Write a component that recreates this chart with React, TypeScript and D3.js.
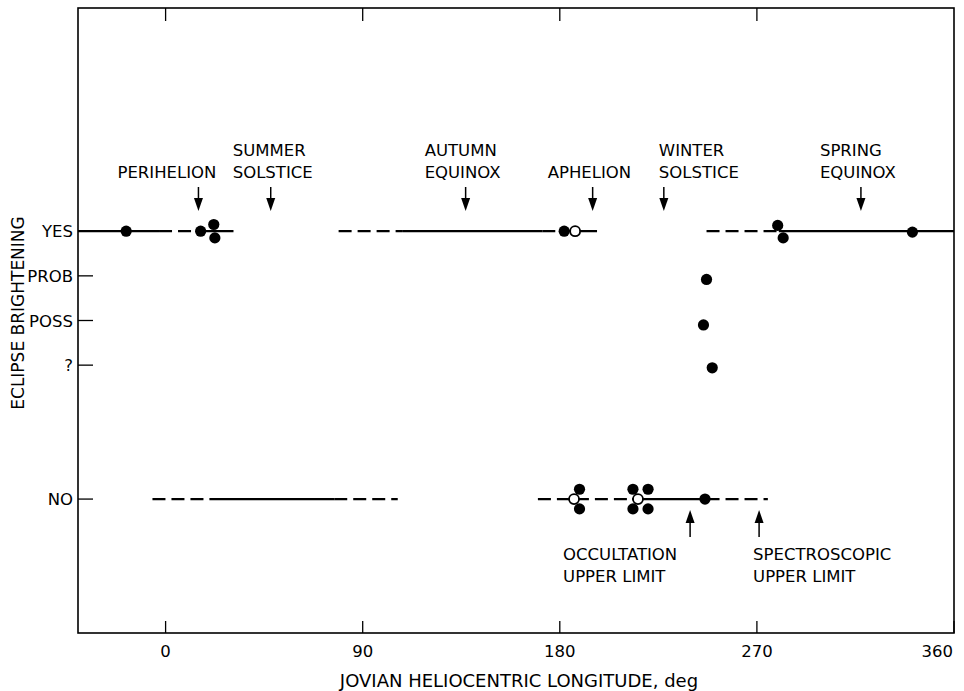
import React from 'react';
import * as d3 from 'd3';

// eclipse brightening vs jovian heliocentric longitude (deg)
const xTicks = [0, 90, 180, 270, 360];
const yLevels = [
  { label: 'YES', value: 4 },
  { label: 'PROB', value: 3 },
  { label: 'POSS', value: 2 },
  { label: '?', value: 1 },
  { label: 'NO', value: -2 },
];

// observed spans: [from lon, to lon, level, style]
const spans: [number, number, number, string][] = [
  [-40, -3, 4, 'solid'],
  [-3, 14, 4, 'dash'],
  [14, 31, 4, 'solid'],
  [79, 108, 4, 'dash'],
  [108, 172, 4, 'solid'],
  [172, 182, 4, 'dash'],
  [182, 197, 4, 'solid'],
  [247, 280, 4, 'dash'],
  [280, 360, 4, 'solid'],
  [-6, 20, -2, 'dash'],
  [20, 77, -2, 'solid'],
  [77, 106, -2, 'dash'],
  [170, 213, -2, 'dash'],
  [213, 247, -2, 'solid'],
  [247, 275, -2, 'dash'],
];

// individual eclipses: [lon, level]
const filledPts: [number, number][] = [
  [-18, 4], [16, 4], [22, 4.15], [22.5, 3.85], [182, 4],
  [279.5, 4.13], [282, 3.85], [341, 3.98],
  [247, 2.92], [245.6, 1.9], [249.6, 0.94],
  [189, -1.78], [189, -2.22], [213.4, -1.78], [220.3, -1.78],
  [213.4, -2.22], [220.3, -2.22], [246.3, -2],
];
const openPts: [number, number][] = [[187, 4], [186.5, -2], [215.7, -2]];

const topEvents = [
  { lines: ['PERIHELION'], lon: 15 },
  { lines: ['SUMMER', 'SOLSTICE'], lon: 48 },
  { lines: ['AUTUMN', 'EQUINOX'], lon: 137 },
  { lines: ['APHELION'], lon: 195 },
  { lines: ['WINTER', 'SOLSTICE'], lon: 227.5 },
  { lines: ['SPRING', 'EQUINOX'], lon: 317.5 },
];
const bottomEvents = [
  { lines: ['OCCULTATION', 'UPPER LIMIT'], lon: 239.5 },
  { lines: ['SPECTROSCOPIC', 'UPPER LIMIT'], lon: 271 },
];

// where each label's left edge sits relative to its arrow
const labelShift: Record<string, number> = {
  PERIHELION: -81, SUMMER: -38, AUTUMN: -41, APHELION: -45, WINTER: -5,
  SPRING: -41, OCCULTATION: -127, SPECTROSCOPIC: -6,
};

const W = 964, H = 691;
const left = 78, right = 954, top = 8, bottom = 633;
const font = '"DejaVu Sans", sans-serif';

export default function App() {
  const x = d3.scaleLinear().domain([-40, 360]).range([left, right]);
  const y = d3.scaleLinear().domain([-5, 9]).range([bottom, top]);
  const line = d3.line<number>().x(d => x(d)).y(0);

  return (
    <svg width={W} height={H} style={{ position: 'absolute', left: 0, top: 0, background: '#fff' }}
      fontFamily={font} fontSize={16.5}>
      <rect x={left} y={top} width={right - left} height={bottom - top} fill="none" stroke="#000" strokeWidth={1.6} />
      {xTicks.map(t => (
        <g key={t}>
          <line x1={x(t)} x2={x(t)} y1={bottom} y2={bottom - 12} stroke="#000" strokeWidth={1.3} />
          {t < 360 && <line x1={x(t)} x2={x(t)} y1={top} y2={top + 13} stroke="#000" strokeWidth={1.3} />}
          <text x={t === 360 ? x(t) - 1 : x(t)} y={657} textAnchor={t === 360 ? 'end' : 'middle'}>{t}</text>
        </g>
      ))}
      {yLevels.map(l => (
        <g key={l.label}>
          <line x1={left} x2={left + 15} y1={y(l.value)} y2={y(l.value)} stroke="#000" strokeWidth={1.3} />
          <text x={73} y={y(l.value) + 6} textAnchor="end">{l.label}</text>
        </g>
      ))}
      <text x={519} y={687} textAnchor="middle" fontSize={18}>JOVIAN HELIOCENTRIC LONGITUDE, deg</text>
      <text transform={`translate(24,313) rotate(-90)`} textAnchor="middle" fontSize={17}>ECLIPSE BRIGHTENING</text>

      {spans.map((s, i) => (
        <path key={i} transform={`translate(0,${y(s[2])})`} d={line([s[0], s[1]]) || ''}
          stroke="#000" strokeWidth={2.2} fill="none"
          strokeDasharray={s[3] === 'dash' ? '13 6' : undefined} />
      ))}
      {openPts.map((p, i) => (
        <circle key={'o' + i} cx={x(p[0])} cy={y(p[1])} r={5} fill="#fff" stroke="#000" strokeWidth={1.8} />
      ))}
      {filledPts.map((p, i) => (
        <circle key={'f' + i} cx={x(p[0])} cy={y(p[1])} r={5.6} fill="#000" />
      ))}

      {topEvents.map(e => {
        const ax = x(e.lon);
        const lx = ax + labelShift[e.lines[0]];
        const base = 178 - (e.lines.length - 1) * 22;
        return (
          <g key={e.lines[0]}>
            <line x1={ax} x2={ax} y1={187} y2={200} stroke="#000" strokeWidth={1.5} />
            <path d={`M${ax - 4.5},198 L${ax + 4.5},198 L${ax},211 Z`} fill="#000" />
            {e.lines.map((t, i) => <text key={t} x={lx} y={base + i * 22}>{t}</text>)}
          </g>
        );
      })}
      {bottomEvents.map(e => {
        const ax = x(e.lon);
        const lx = ax + labelShift[e.lines[0]];
        return (
          <g key={e.lines[0]}>
            <line x1={ax} x2={ax} y1={521} y2={537} stroke="#000" strokeWidth={1.5} />
            <path d={`M${ax - 4.5},523 L${ax + 4.5},523 L${ax},510 Z`} fill="#000" />
            {e.lines.map((t, i) => <text key={t} x={lx} y={560 + i * 22}>{t}</text>)}
          </g>
        );
      })}
    </svg>
  );
}
